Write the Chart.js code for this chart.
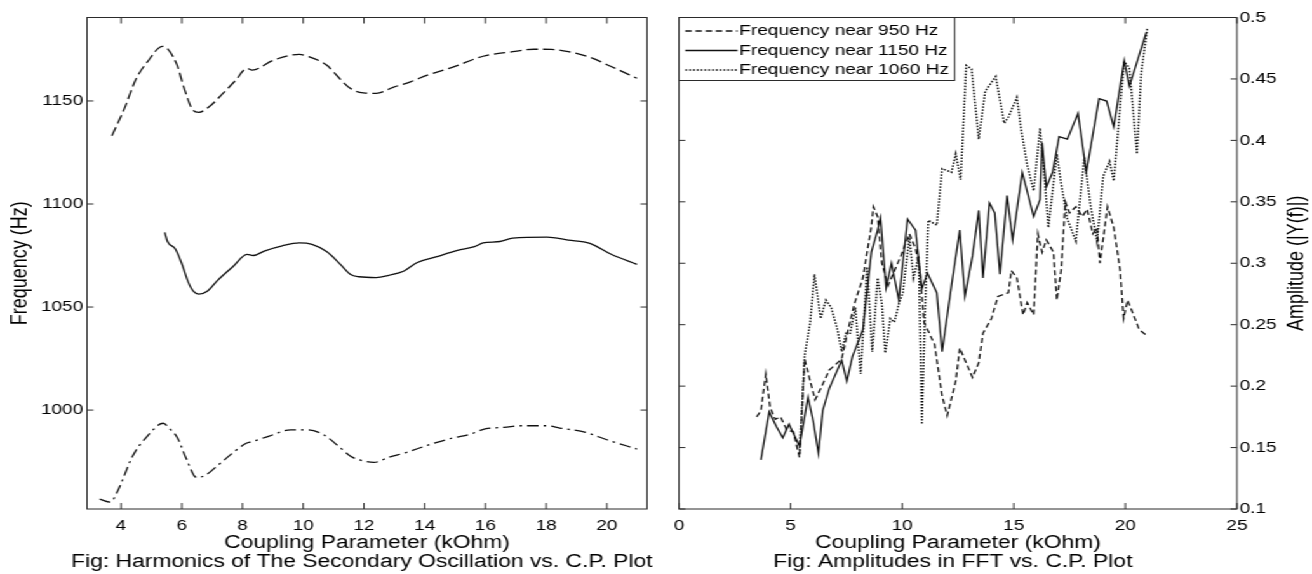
<!DOCTYPE html>
<html lang="en">
<head>
  <meta charset="UTF-8">
  <title>Harmonics and FFT Amplitudes vs. Coupling Parameter</title>
  <script src="https://cdn.jsdelivr.net/npm/chart.js"></script>
  <style>
    html, body { margin: 0; padding: 0; background: #fff; overflow: hidden; }
    /* the source figure is stretched horizontally, so draw narrow and stretch */
    #stage { position: absolute; left: 0; top: 0; width: 1033px; height: 574px; transform: scaleX(1.2701); transform-origin: 0 0; }
    .panel { position: absolute; top: 0; height: 574px; }
  </style>
</head>
<body>
  <div id="stage">
    <div class="panel" style="left:0; width:516px;"><canvas id="harmonicsChart"></canvas></div>
    <div class="panel" style="left:516px; width:517px;"><canvas id="fftChart"></canvas></div>
  </div>
  <script>
    // Left: harmonics of the secondary oscillation (Hz)
    const upperX = [3.70, 4.10, 4.49, 4.87, 5.37, 5.83, 6.07, 6.35, 6.56, 6.91, 7.34, 7.76, 8.15, 8.32, 9.02, 9.87, 10.15, 10.78, 11.13, 11.56, 11.98, 12.40, 12.96, 13.53, 14.09, 14.93, 15.92, 16.90, 17.60, 18.17, 18.73, 19.44, 20.14, 20.99];
    const upperY = [1133.1, 1145.9, 1160.5, 1169.0, 1176.5, 1168.0, 1156.6, 1145.9, 1144.5, 1147.3, 1153.4, 1159.8, 1165.8, 1165.0, 1169.8, 1172.6, 1171.7, 1167.3, 1162.0, 1156.0, 1153.9, 1153.7, 1156.6, 1159.3, 1162.5, 1166.4, 1171.7, 1173.9, 1175.1, 1175.0, 1173.9, 1171.2, 1166.7, 1161.0];

    const middleX = [5.44, 5.53, 5.79, 6.00, 6.21, 6.38, 6.56, 6.84, 7.19, 7.69, 8.15, 8.35, 8.74, 9.31, 9.87, 10.29, 10.78, 11.20, 11.56, 11.84, 12.40, 12.82, 13.32, 13.74, 14.37, 15.08, 15.64, 15.92, 16.48, 16.90, 18.03, 18.73, 19.44, 20.14, 20.99];
    const middleY = [1086.2, 1081.8, 1078.2, 1071.1, 1062.2, 1057.7, 1056.3, 1057.7, 1063.1, 1069.7, 1075.6, 1075.0, 1077.3, 1079.7, 1081.1, 1080.4, 1076.8, 1071.1, 1065.8, 1064.7, 1064.3, 1065.4, 1067.5, 1071.5, 1074.3, 1077.5, 1079.3, 1081.1, 1081.8, 1083.4, 1083.9, 1082.5, 1080.9, 1075.6, 1070.7];

    const lowerX = [3.30, 3.65, 3.89, 4.38, 4.87, 5.39, 5.58, 5.86, 6.14, 6.49, 6.77, 7.19, 7.62, 8.11, 8.32, 8.88, 9.59, 10.15, 10.71, 11.13, 11.56, 11.98, 12.33, 12.82, 13.39, 14.09, 14.93, 15.50, 15.99, 16.62, 17.19, 18.03, 18.45, 19.30, 20.00, 20.99];
    const lowerY = [956.8, 955.3, 960.7, 977.6, 987.4, 993.6, 991.3, 986.5, 976.7, 967.3, 968.3, 973.2, 978.5, 983.8, 984.7, 987.4, 990.4, 990.4, 987.7, 982.9, 977.6, 975.3, 974.6, 977.1, 979.4, 982.9, 986.5, 988.3, 990.9, 991.6, 992.4, 992.4, 991.3, 989.2, 985.6, 981.1];

    const freqXTicks = [4, 6, 8, 10, 12, 14, 16, 18, 20];
    const freqYTicks = [1000, 1050, 1100, 1150];

    // Right: FFT amplitudes |Y(f)|
    const amp950X = [3.48, 3.67, 3.89, 4.08, 4.31, 4.55, 4.84, 5.12, 5.40, 5.63, 5.88, 6.10, 6.35, 6.73, 7.29, 7.58, 7.86, 8.24, 8.62, 8.71, 8.90, 9.09, 9.37, 9.94, 10.32, 10.60, 10.79, 10.98, 11.45, 11.79, 12.02, 12.40, 12.58, 13.15, 13.43, 13.62, 14.00, 14.29, 14.76, 14.89, 15.14, 15.42, 15.60, 15.89, 16.08, 16.27, 16.46, 16.78, 16.93, 17.12, 17.31, 17.50, 17.78, 18.07, 18.29, 18.54, 18.73, 18.86, 19.20, 19.48, 19.77, 19.92, 20.10, 20.43, 20.62, 20.90];
    const amp950Y = [0.175, 0.180, 0.210, 0.183, 0.173, 0.175, 0.164, 0.163, 0.142, 0.222, 0.204, 0.189, 0.198, 0.213, 0.222, 0.246, 0.267, 0.288, 0.330, 0.346, 0.338, 0.300, 0.282, 0.306, 0.324, 0.312, 0.294, 0.252, 0.234, 0.192, 0.176, 0.204, 0.231, 0.207, 0.219, 0.243, 0.255, 0.273, 0.276, 0.294, 0.288, 0.258, 0.268, 0.258, 0.324, 0.309, 0.319, 0.309, 0.270, 0.294, 0.350, 0.341, 0.346, 0.338, 0.344, 0.324, 0.329, 0.300, 0.346, 0.329, 0.294, 0.255, 0.270, 0.255, 0.246, 0.242];

    const amp1150X = [3.67, 4.04, 4.37, 4.65, 4.93, 5.40, 5.78, 6.01, 6.25, 6.44, 6.73, 7.29, 7.52, 7.77, 8.24, 8.62, 8.90, 9.03, 9.28, 9.52, 9.85, 10.24, 10.60, 10.88, 11.13, 11.55, 11.79, 12.21, 12.58, 12.81, 13.15, 13.43, 13.62, 13.91, 14.15, 14.38, 14.70, 14.95, 15.38, 15.89, 16.18, 16.27, 16.46, 16.74, 17.03, 17.40, 17.88, 18.25, 18.82, 19.16, 19.48, 19.95, 20.18, 20.94];
    const amp1150Y = [0.140, 0.179, 0.167, 0.158, 0.169, 0.151, 0.191, 0.172, 0.145, 0.180, 0.198, 0.221, 0.204, 0.224, 0.246, 0.309, 0.327, 0.337, 0.280, 0.300, 0.270, 0.336, 0.327, 0.279, 0.292, 0.276, 0.228, 0.282, 0.327, 0.273, 0.306, 0.343, 0.288, 0.349, 0.341, 0.291, 0.355, 0.319, 0.374, 0.338, 0.352, 0.398, 0.362, 0.374, 0.403, 0.401, 0.422, 0.374, 0.434, 0.432, 0.411, 0.465, 0.444, 0.488];

    const amp1060X = [5.40, 5.63, 5.88, 6.07, 6.35, 6.58, 6.82, 7.10, 7.29, 7.48, 7.67, 7.90, 8.14, 8.43, 8.66, 8.90, 9.09, 9.24, 9.47, 9.65, 9.85, 10.03, 10.32, 10.51, 10.74, 10.88, 11.04, 11.17, 11.55, 11.79, 12.21, 12.40, 12.62, 12.87, 13.11, 13.43, 13.72, 14.19, 14.57, 14.76, 15.14, 15.32, 15.60, 15.89, 16.18, 16.40, 16.55, 16.93, 17.12, 17.40, 17.78, 18.16, 18.44, 18.73, 19.01, 19.29, 19.48, 19.77, 19.95, 20.18, 20.52, 20.71, 20.99];
    const amp1060Y = [0.145, 0.225, 0.252, 0.291, 0.255, 0.270, 0.264, 0.246, 0.228, 0.243, 0.243, 0.264, 0.210, 0.297, 0.228, 0.288, 0.267, 0.227, 0.255, 0.252, 0.267, 0.276, 0.321, 0.288, 0.306, 0.169, 0.270, 0.335, 0.331, 0.377, 0.374, 0.389, 0.368, 0.461, 0.458, 0.401, 0.440, 0.452, 0.414, 0.419, 0.435, 0.410, 0.380, 0.359, 0.410, 0.365, 0.329, 0.389, 0.365, 0.336, 0.318, 0.386, 0.347, 0.318, 0.371, 0.383, 0.367, 0.428, 0.464, 0.459, 0.389, 0.455, 0.492];

    const ampXTicks = [0, 5, 10, 15, 20, 25];
    const ampYTicks = [0.1, 0.15, 0.2, 0.25, 0.3, 0.35, 0.4, 0.45, 0.5];

    const FONT = '"Liberation Sans", Arial, sans-serif';
    const INK = '#111';
    Chart.defaults.font.family = FONT;
    Chart.defaults.color = '#000';

    const pts = (xs, ys) => xs.map((x, i) => ({ x, y: ys[i] }));

    // fixed box sizes so the plot areas land where the figure has them
    const fixWidth = w => s => { s.width = w; s.paddingTop = 0; s.paddingBottom = 0; };
    const fixHeight = h => s => { s.height = h; s.paddingLeft = 0; s.paddingRight = 0; };
    const useTicks = list => s => { s.ticks = list.map(v => ({ value: v })); };

    // matlab style box with inward ticks on all four sides, plus caption
    const frame = {
      id: 'frame',
      afterDraw(chart, args, opts) {
        const { ctx, chartArea: a, scales } = chart;
        const yScale = scales.y;
        ctx.save();
        ctx.strokeStyle = '#2b2b2b';
        ctx.lineWidth = 1;
        ctx.beginPath();
        scales.x.ticks.forEach(t => {
          const px = scales.x.getPixelForValue(t.value);
          ctx.moveTo(px, a.bottom); ctx.lineTo(px, a.bottom - 6);
          ctx.moveTo(px, a.top); ctx.lineTo(px, a.top + 6);
        });
        yScale.ticks.forEach(t => {
          const py = yScale.getPixelForValue(t.value);
          ctx.moveTo(a.left, py); ctx.lineTo(a.left + 5, py);
          ctx.moveTo(a.right, py); ctx.lineTo(a.right - 5, py);
        });
        ctx.stroke();
        ctx.strokeRect(a.left, a.top, a.right - a.left, a.bottom - a.top);

        ctx.fillStyle = '#000';
        ctx.textAlign = 'center';
        ctx.textBaseline = 'middle';
        ctx.font = '18px ' + FONT;
        ctx.fillText(opts.caption, (a.left + a.right) / 2 - 4, 562);

        if (opts.sideTitle) {
          ctx.translate(yScale.right - 12, (a.top + a.bottom) / 2);
          ctx.rotate(-Math.PI / 2);
          ctx.fillText(opts.sideTitle, 0, 0);
        }
        ctx.restore();
      }
    };

    const legendBox = {
      id: 'legendBox',
      afterDraw(chart) {
        const { ctx, chartArea: a } = chart;
        ctx.save();
        ctx.fillStyle = '#fff';
        ctx.strokeStyle = '#2b2b2b';
        ctx.lineWidth = 1;
        ctx.fillRect(a.left, a.top, 217, 63);
        ctx.strokeRect(a.left, a.top, 217, 63);
        ctx.font = '15px ' + FONT;
        ctx.textBaseline = 'middle';
        chart.data.datasets.forEach((ds, i) => {
          const y = a.top + 13.5 + i * 19.5;
          ctx.strokeStyle = ds.borderColor;
          ctx.lineWidth = ds.borderWidth;
          ctx.setLineDash(ds.borderDash || []);
          ctx.beginPath();
          ctx.moveTo(a.left + 5, y);
          ctx.lineTo(a.left + 46, y);
          ctx.stroke();
          ctx.setLineDash([]);
          ctx.fillStyle = '#000';
          ctx.fillText(ds.label, a.left + 47.5, y);
        });
        ctx.restore();
      }
    };

    const tickFont = { size: 15 };
    const titleFont = { size: 18 };

    // Chart 1: Harmonics of the secondary oscillation
    new Chart(document.getElementById('harmonicsChart'), {
      type: 'line',
      data: {
        datasets: [
          { label: 'Upper harmonic', data: pts(upperX, upperY), borderDash: [9, 4] },
          { label: 'Middle harmonic', data: pts(middleX, middleY), borderDash: [] },
          { label: 'Lower harmonic', data: pts(lowerX, lowerY), borderDash: [9, 4, 2, 4] }
        ].map(d => Object.assign(d, { borderColor: INK, borderWidth: 1.3, pointRadius: 0, fill: false, cubicInterpolationMode: 'monotone' }))
      },
      options: {
        responsive: true,
        maintainAspectRatio: false,
        animation: false,
        layout: { padding: { top: 17.5, right: 6.6, left: 0, bottom: 20.2 } },
        plugins: {
          legend: { display: false },
          tooltip: { enabled: false },
          frame: { caption: 'Fig: Harmonics of The Secondary Oscillation vs. C.P. Plot' }
        },
        scales: {
          x: {
            type: 'linear', min: 2.88, max: 21.32,
            grid: { display: false, drawTicks: false }, border: { display: false },
            ticks: { font: tickFont, padding: 8, maxRotation: 0, autoSkip: false, callback: v => String(v) },
            title: { display: true, text: 'Coupling Parameter (kOhm)', font: titleFont, padding: { top: 0, bottom: 0 } },
            afterBuildTicks: useTicks(freqXTicks),
            afterFit: fixHeight(44.8)
          },
          y: {
            type: 'linear', min: 952, max: 1190.5,
            grid: { display: false, drawTicks: false }, border: { display: false },
            ticks: { font: tickFont, padding: 3, autoSkip: false, callback: v => String(v) },
            title: { display: true, text: 'Frequency (Hz)', font: titleFont, padding: { top: 5, bottom: 0 } },
            afterBuildTicks: useTicks(freqYTicks),
            afterFit: fixWidth(68.5)
          }
        }
      },
      plugins: [frame]
    });

    // Chart 2: Amplitudes in FFT
    new Chart(document.getElementById('fftChart'), {
      type: 'line',
      data: {
        datasets: [
          { label: 'Frequency near 950 Hz', data: pts(amp950X, amp950Y), borderDash: [5, 3], borderWidth: 1.3 },
          { label: 'Frequency near 1150 Hz', data: pts(amp1150X, amp1150Y), borderDash: [], borderWidth: 1.3 },
          { label: 'Frequency near 1060 Hz', data: pts(amp1060X, amp1060Y), borderDash: [1.5, 1.5], borderWidth: 1.5 }
        ].map(d => Object.assign(d, { borderColor: INK, pointRadius: 0, fill: false, tension: 0 }))
      },
      options: {
        responsive: true,
        maintainAspectRatio: false,
        animation: false,
        layout: { padding: { top: 17.5, right: 0, left: 18.6, bottom: 20.2 } },
        plugins: {
          legend: { display: false },
          tooltip: { enabled: false },
          frame: { caption: 'Fig: Amplitudes in FFT vs. C.P. Plot', sideTitle: 'Amplitude (|Y(f)|)' }
        },
        scales: {
          x: {
            type: 'linear', min: 0, max: 25,
            grid: { display: false, drawTicks: false }, border: { display: false },
            ticks: { font: tickFont, padding: 8, maxRotation: 0, autoSkip: false, callback: v => String(v) },
            title: { display: true, text: 'Coupling Parameter (kOhm)', font: titleFont, padding: { top: 0, bottom: 0 } },
            afterBuildTicks: useTicks(ampXTicks),
            afterFit: fixHeight(44.8)
          },
          y: {
            type: 'linear', position: 'right', min: 0.1, max: 0.5,
            grid: { display: false, drawTicks: false }, border: { display: false },
            ticks: { font: tickFont, padding: 2, autoSkip: false, callback: v => String(v) },
            afterBuildTicks: useTicks(ampYTicks),
            afterFit: fixWidth(59.1)
          }
        }
      },
      plugins: [frame, legendBox]
    });
  </script>
</body>
</html>
